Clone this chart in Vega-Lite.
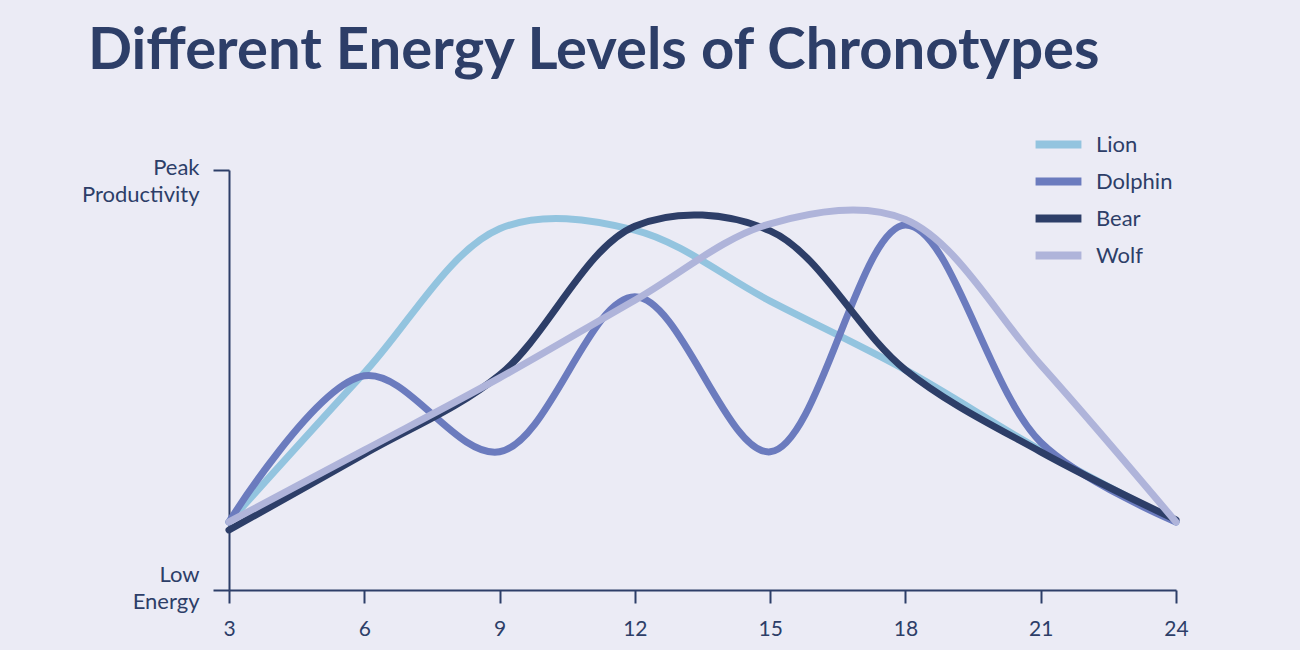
{
  "$schema": "https://vega.github.io/schema/vega-lite/v6.json",
  "width": 947,
  "height": 420,
  "autosize": {"type": "none"},
  "padding": {"left": 229, "top": 170, "right": 124, "bottom": 60},
  "background": "#EBEBF5",
  "title": {
    "text": "Different Energy Levels of Chronotypes",
    "anchor": "start",
    "frame": "group",
    "dx": -141,
    "dy": 3,
    "font": "Lato",
    "fontWeight": 700,
    "fontSize": 58,
    "color": "#2D3E68",
    "baseline": "alphabetic",
    "offset": 0
  },
  "config": {
    "view": {"stroke": null},
    "font": "Lato"
  },
  "data": {
    "values": [
      {"hour": 3, "value": 1.62, "type": "Lion"},
      {"hour": 6, "value": 5.17, "type": "Lion"},
      {"hour": 9, "value": 8.6, "type": "Lion"},
      {"hour": 12, "value": 8.57, "type": "Lion"},
      {"hour": 15, "value": 6.88, "type": "Lion"},
      {"hour": 18, "value": 5.24, "type": "Lion"},
      {"hour": 21, "value": 3.33, "type": "Lion"},
      {"hour": 24, "value": 1.62, "type": "Lion"},

      {"hour": 3, "value": 1.62, "type": "Dolphin"},
      {"hour": 6, "value": 5.1, "type": "Dolphin"},
      {"hour": 9, "value": 3.29, "type": "Dolphin"},
      {"hour": 12, "value": 6.98, "type": "Dolphin"},
      {"hour": 15, "value": 3.29, "type": "Dolphin"},
      {"hour": 18, "value": 8.69, "type": "Dolphin"},
      {"hour": 21, "value": 3.52, "type": "Dolphin"},
      {"hour": 24, "value": 1.62, "type": "Dolphin"},

      {"hour": 3, "value": 1.43, "type": "Bear"},
      {"hour": 6, "value": 3.24, "type": "Bear"},
      {"hour": 9, "value": 5.12, "type": "Bear"},
      {"hour": 12, "value": 8.66, "type": "Bear"},
      {"hour": 15, "value": 8.55, "type": "Bear"},
      {"hour": 18, "value": 5.24, "type": "Bear"},
      {"hour": 21, "value": 3.29, "type": "Bear"},
      {"hour": 24, "value": 1.67, "type": "Bear"},

      {"hour": 3, "value": 1.62, "type": "Wolf"},
      {"hour": 6, "value": 3.33, "type": "Wolf"},
      {"hour": 9, "value": 5.05, "type": "Wolf"},
      {"hour": 12, "value": 6.9, "type": "Wolf"},
      {"hour": 15, "value": 8.72, "type": "Wolf"},
      {"hour": 18, "value": 8.82, "type": "Wolf"},
      {"hour": 21, "value": 5.36, "type": "Wolf"},
      {"hour": 24, "value": 1.62, "type": "Wolf"}
    ]
  },
  "mark": {"type": "line", "interpolate": "catmull-rom", "strokeWidth": 7, "strokeCap": "round", "strokeJoin": "round"},
  "encoding": {
    "x": {
      "field": "hour",
      "type": "quantitative",
      "scale": {"domain": [3, 24], "nice": false, "zero": false},
      "axis": {
        "title": "Hour",
        "values": [3, 6, 9, 12, 15, 18, 21, 24],
        "grid": false,
        "labelFlush": false,
        "domainColor": "#2D3E68",
        "domainWidth": 2,
        "tickColor": "#2D3E68",
        "tickWidth": 2,
        "tickSize": 13,
        "labelFontSize": 21,
        "labelColor": "#2D3E68",
        "labelPadding": 15,
        "labelFont": "Lato",
        "titleFont": "Lato",
        "titleFontSize": 21,
        "titleFontWeight": "normal",
        "titleColor": "#2D3E68",
        "titlePadding": 12
      }
    },
    "y": {
      "field": "value",
      "type": "quantitative",
      "scale": {"domain": [0, 10], "nice": false},
      "axis": {
        "title": null,
        "values": [0, 10],
        "grid": false,
        "labelExpr": "datum.value == 10 ? ['Peak', 'Productivity'] : ['Low', 'Energy']",
        "labelAlign": "right",
        "labelBaseline": "middle",
        "labelOffset": {"expr": "datum.value == 10 ? -3 : -16"},
        "labelLineHeight": 27,
        "labelFontSize": 22,
        "labelColor": "#2D3E68",
        "labelFont": "Lato",
        "labelPadding": 14,
        "domainColor": "#2D3E68",
        "domainWidth": 2,
        "tickColor": "#2D3E68",
        "tickWidth": 2,
        "tickSize": 16
      }
    },
    "color": {
      "field": "type",
      "type": "nominal",
      "sort": ["Lion", "Dolphin", "Bear", "Wolf"],
      "scale": {"domain": ["Lion", "Dolphin", "Bear", "Wolf"], "range": ["#93C4DF", "#6B7BBE", "#2D3E68", "#AFB4DA"]},
      "legend": {
        "title": null,
        "orient": "none",
        "legendX": 809,
        "legendY": -46,
        "symbolType": "M-1.39,0H1.39",
        "symbolSize": 1089,
        "symbolStrokeWidth": 8,
        "labelFontSize": 22,
        "labelFont": "Lato",
        "labelColor": "#2D3E68",
        "labelOffset": 17,
        "rowPadding": 0
      }
    }
  }
}
